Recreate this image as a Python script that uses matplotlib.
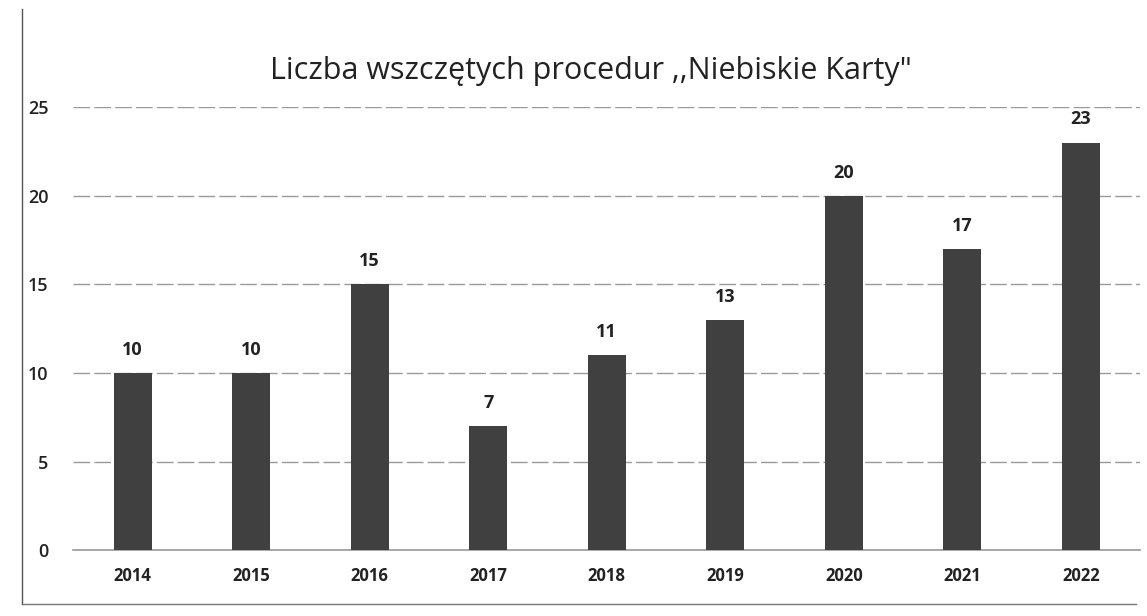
import matplotlib
matplotlib.use("Agg")
import matplotlib.pyplot as plt
from matplotlib.lines import Line2D

years = ["2014", "2015", "2016", "2017", "2018", "2019", "2020", "2021", "2022"]
counts = [10, 10, 15, 7, 11, 13, 20, 17, 23]
yticks = [0, 5, 10, 15, 20, 25]

plt.rcParams['font.family'] = ['Open Sans', 'DejaVu Sans']

fig = plt.figure(figsize=(11.47, 6.16), dpi=100)
ax = fig.add_axes([0.064, 0.107, 0.93, 0.719])

x = range(len(years))
ax.bar(x, counts, width=0.32, color="#404040", zorder=3)
for i, v in enumerate(counts):
    ax.text(i, v + 0.8, str(v), ha="center", va="bottom", fontsize=13,
            fontweight="bold", color="#222222")

ax.set_xlim(-0.5, 8.5)
ax.set_ylim(0, 25)
ax.set_yticks(yticks)
ax.set_yticklabels([str(t) for t in yticks], fontweight="semibold")
ax.set_xticks(list(x))
ax.set_xticklabels(years, fontsize=12, fontweight="bold", color="#222222")
ax.tick_params(axis="y", labelsize=13, colors="#222222", length=0, pad=18)
ax.tick_params(axis="x", length=0, pad=12)
ax.yaxis.grid(True, color="#9a9a9a", linewidth=1, linestyle=(0, (12, 3)), zorder=0)
ax.axhline(0, color="#9a9a9a", linewidth=1.2, zorder=2, clip_on=False)
for s in ax.spines.values():
    s.set_visible(False)

fig.text(0.515, 0.885, "Liczba wszczętych procedur ,,Niebiskie Karty\"",
         ha="center", va="center", fontsize=22, color="#222222")

# scanned page border
fig.add_artist(Line2D([0.019, 0.019], [0.02, 0.985], color="#555555", linewidth=1))
fig.add_artist(Line2D([0.019, 0.99], [0.02, 0.02], color="#777777", linewidth=1))

fig.savefig("out.png", dpi=100, facecolor="white")
